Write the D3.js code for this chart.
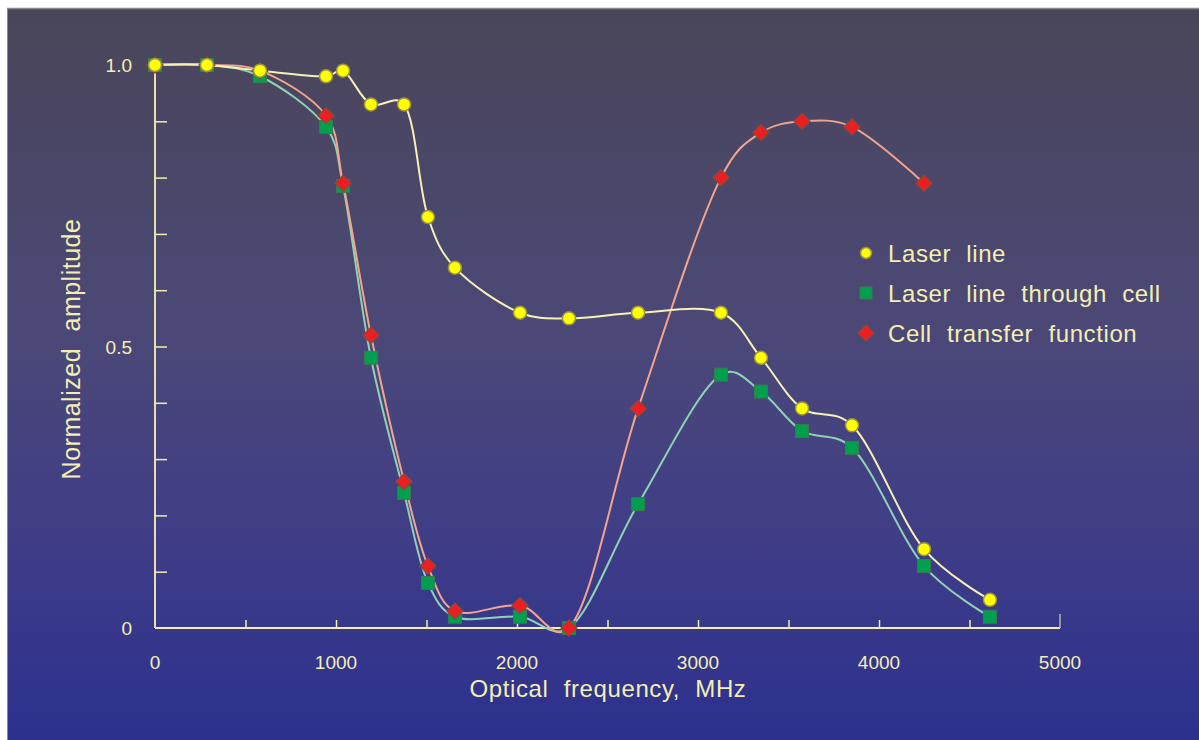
<!DOCTYPE html>
<html>
<head>
<meta charset="utf-8">
<script src="https://cdn.jsdelivr.net/npm/d3@7/dist/d3.min.js"></script>
<style>
  html, body { margin: 0; padding: 0; background: #ffffff; }
  svg { display: block; }
  text { font-family: "Liberation Sans", Arial, sans-serif; fill: #f4efb0; }
</style>
</head>
<body>
<svg id="chart" width="1199" height="740"></svg>
<script>
// Optical frequency (MHz) at each measurement
const freqLaser = [0, 287, 580, 945, 1039, 1193, 1376, 1508, 1657, 2017, 2287, 2669, 3127, 3348, 3575, 3851, 4249, 4613];
const laserLine = [1.0, 1.0, 0.99, 0.98, 0.99, 0.93, 0.93, 0.73, 0.64, 0.56, 0.55, 0.56, 0.56, 0.48, 0.39, 0.36, 0.14, 0.05];

const freqCell = [0, 287, 580, 945, 1039, 1193, 1376, 1508, 1657, 2017, 2287, 2669, 3127, 3348, 3575, 3851, 4249, 4613];
const throughCell = [1.0, 1.0, 0.98, 0.89, 0.785, 0.48, 0.24, 0.08, 0.02, 0.02, 0.0, 0.22, 0.45, 0.42, 0.35, 0.32, 0.11, 0.02];

const freqTransfer = [0, 287, 580, 945, 1039, 1193, 1376, 1508, 1657, 2017, 2287, 2669, 3127, 3348, 3575, 3851, 4249];
const transferFn = [1.0, 1.0, 0.99, 0.91, 0.79, 0.52, 0.26, 0.11, 0.03, 0.04, 0.0, 0.39, 0.80, 0.88, 0.90, 0.89, 0.79];

const xTickValues = [0, 1000, 2000, 3000, 4000, 5000];
const xMinorTicks = [500, 1000, 1500, 2000, 2500, 3000, 3500, 4000, 4500];
const yTickValues = [0, 0.5, 1.0];
const yTickLabels = ["0", "0.5", "1.0"];
const yMinorTicks = [0.1, 0.2, 0.3, 0.4, 0.5, 0.6, 0.7, 0.8, 0.9];

const legendLabels = ["Laser line", "Laser line through cell", "Cell transfer function"];

const svg = d3.select("#chart");

// background panel with vertical gradient
const defs = svg.append("defs");
const grad = defs.append("linearGradient").attr("id", "bg").attr("x1", 0).attr("y1", 0).attr("x2", 0).attr("y2", 1);
grad.append("stop").attr("offset", "0%").attr("stop-color", "#4a4659");
grad.append("stop").attr("offset", "45%").attr("stop-color", "#4b4878");
grad.append("stop").attr("offset", "75%").attr("stop-color", "#3e3c88");
grad.append("stop").attr("offset", "100%").attr("stop-color", "#2c308f");

svg.append("rect").attr("x", 7).attr("y", 8).attr("width", 1192).attr("height", 732).attr("fill", "url(#bg)");
svg.append("line").attr("x1", 7).attr("x2", 1199).attr("y1", 8.5).attr("y2", 8.5).attr("stroke", "#8a8a8a").attr("stroke-width", 1.5);
svg.append("line").attr("x1", 7.5).attr("x2", 7.5).attr("y1", 8).attr("y2", 740).attr("stroke", "#8a8a8a").attr("stroke-width", 1);

const x = d3.scaleLinear().domain([0, 5000]).range([155, 1060]);
const y = d3.scaleLinear().domain([0, 1]).range([628, 65]);

const axisColor = "#f4efb0";

// axes
const xAxis = svg.append("g").attr("transform", `translate(0,${y(0)})`)
  .call(d3.axisBottom(x).tickValues(xMinorTicks).tickSize(-8).tickFormat(""));
xAxis.select(".domain").attr("stroke", axisColor).attr("stroke-width", 2).attr("d", `M${x(0)},0H${x(5000)}`);
xAxis.selectAll(".tick line").attr("stroke", axisColor).attr("stroke-width", 1.5);
svg.append("line").attr("x1", x(5000)).attr("x2", x(5000)).attr("y1", y(0)).attr("y2", y(0) - 14)
  .attr("stroke", "#b8b4a0").attr("stroke-width", 1.5);

const yAxis = svg.append("g").attr("transform", `translate(${x(0)},0)`)
  .call(d3.axisLeft(y).tickValues(yMinorTicks).tickSize(-12).tickFormat(""));
yAxis.select(".domain").attr("stroke", "#e6dfae").attr("stroke-width", 2).attr("d", `M0,${y(0)}V${y(1)}`);
yAxis.selectAll(".tick line").attr("stroke", axisColor).attr("stroke-width", 1.5);

// tick labels
svg.append("g").selectAll("text").data(xTickValues).join("text")
  .attr("x", d => x(d)).attr("y", 669).attr("text-anchor", "middle")
  .attr("font-size", 19).text(d => d);
svg.append("g").selectAll("text").data(yTickValues).join("text")
  .attr("x", 132).attr("y", d => y(d) + 7).attr("text-anchor", "end")
  .attr("font-size", 19).text((d, i) => yTickLabels[i]);

// axis titles
svg.append("text").attr("x", 608).attr("y", 697).attr("text-anchor", "middle")
  .attr("font-size", 24).style("word-spacing", "8px").style("letter-spacing", "0.6px")
  .text("Optical frequency, MHz");
svg.append("text").attr("transform", `translate(80,${349}) rotate(-90)`).attr("text-anchor", "middle")
  .attr("font-size", 25).style("word-spacing", "9px").style("letter-spacing", "0.5px")
  .text("Normalized amplitude");

// curves
const curve = d3.curveCatmullRom.alpha(0.25);
const lineGen = d3.line().x(d => x(d[0])).y(d => y(d[1])).curve(curve);

const seriesTransfer = d3.zip(freqTransfer, transferFn);
const seriesCell = d3.zip(freqCell, throughCell);
const seriesLaser = d3.zip(freqLaser, laserLine);

svg.append("path").datum(seriesCell).attr("d", lineGen).attr("fill", "none").attr("stroke", "#8fd3b4").attr("stroke-width", 2);
svg.append("path").datum(seriesTransfer).attr("d", lineGen).attr("fill", "none").attr("stroke", "#f2a48e").attr("stroke-width", 2);
svg.append("path").datum(seriesLaser).attr("d", lineGen).attr("fill", "none").attr("stroke", "#f6f1b4").attr("stroke-width", 2);

// markers
const sq = 13;
svg.append("g").selectAll("rect").data(seriesCell).join("rect")
  .attr("x", d => x(d[0]) - sq / 2).attr("y", d => y(d[1]) - sq / 2)
  .attr("width", sq).attr("height", sq)
  .attr("fill", "#00a04e").attr("stroke", "#3a7a50").attr("stroke-width", 1);

const diamond = d3.symbol().type(d3.symbolSquare).size(130);
svg.append("g").selectAll("path").data(seriesTransfer).join("path")
  .attr("d", diamond)
  .attr("transform", d => `translate(${x(d[0])},${y(d[1])}) rotate(45)`)
  .attr("fill", "#ea1f22").attr("stroke", "#8a4a3a").attr("stroke-width", 1.2);

svg.append("g").selectAll("circle").data(seriesLaser).join("circle")
  .attr("cx", d => x(d[0])).attr("cy", d => y(d[1])).attr("r", 6.5)
  .attr("fill", "#ffff00").attr("stroke", "#9a9440").attr("stroke-width", 1.5);

// legend
const legendY = [253, 293, 333];
const lg = svg.append("g");
lg.append("circle").attr("cx", 866).attr("cy", legendY[0]).attr("r", 5.5)
  .attr("fill", "#ffff00").attr("stroke", "#9a9440").attr("stroke-width", 1.5);
lg.append("rect").attr("x", 860).attr("y", legendY[1] - 6).attr("width", 12).attr("height", 12)
  .attr("fill", "#00a04e").attr("stroke", "#3a7a50").attr("stroke-width", 1);
lg.append("path").attr("d", diamond).attr("transform", `translate(866,${legendY[2]}) rotate(45)`)
  .attr("fill", "#ea1f22").attr("stroke", "#8a4a3a").attr("stroke-width", 1.2);
lg.selectAll("text").data(legendLabels).join("text")
  .attr("x", 888).attr("y", (d, i) => legendY[i] + 9)
  .attr("font-size", 24).style("word-spacing", "8px").style("letter-spacing", "0.6px")
  .text(d => d);
</script>
</body>
</html>
